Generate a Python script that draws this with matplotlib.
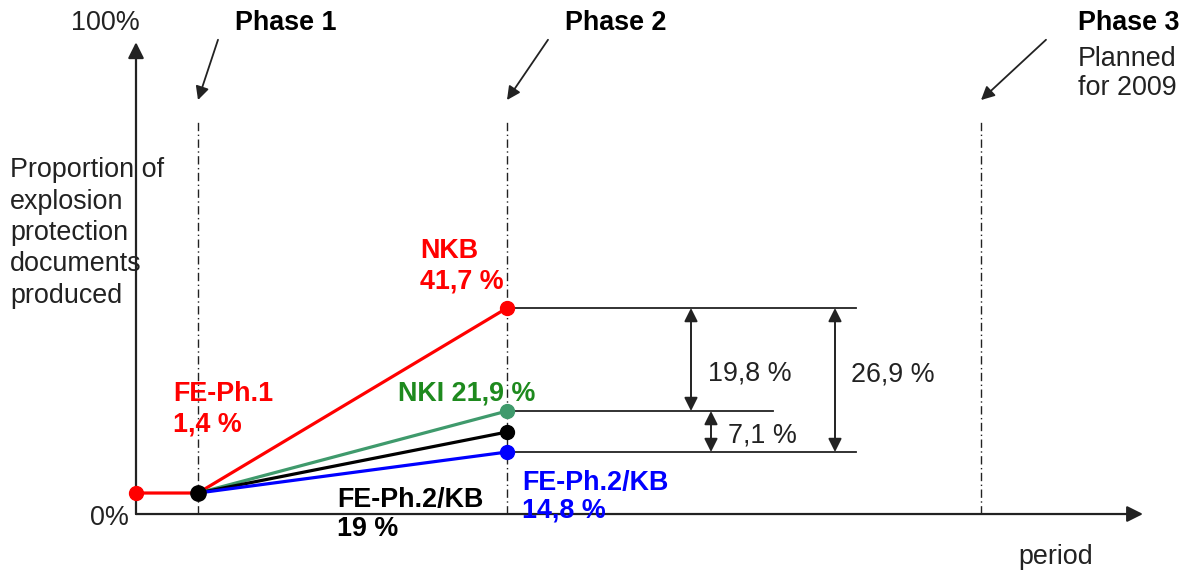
import matplotlib
matplotlib.use("Agg")
import matplotlib.pyplot as plt

plt.rcParams['font.family'] = ['Liberation Sans', 'DejaVu Sans']

# ---- data (positions, in period units / percent) ----
phase_names = ["Phase 1", "Phase 2", "Phase 3"]
phase_x = [0.62, 3.71, 8.45]
x_start = 0.0
start_value = 4.25          # FE-Ph.1 (drawn level)
nkb_value = 41.7            # NKB
nki_value = 20.85           # NKI
fekb_value = 16.6           # FE-Ph.2/KB (black)
feph2_value = 12.55         # FE-Ph.2/KB (blue)

label_fe1 = ["FE-Ph.1", "1,4 %"]
label_nkb = ["NKB", "41,7 %"]
label_nki = "NKI 21,9 %"
label_fekb = ["FE-Ph.2/KB", "19 %"]
label_feph2 = ["FE-Ph.2/KB", "14,8 %"]
diff_labels = ["19,8 %", "7,1 %", "26,9 %"]

RED = "#ff0000"
BLUE = "#0000ff"
GREEN_LINE = "#3f9a6c"
GREEN_TXT = "#1e8a1e"

fig = plt.figure(figsize=(11.94, 5.73), dpi=100)
ax = fig.add_axes([0, 0, 1, 1])
ax.set_xlim(-1.36, 10.58)
ax.set_ylim(-11.94, 104.05)
ax.axis('off')

FS = 19.4

# axes with arrows
ax.annotate("", xy=(0, 95.5), xytext=(0, 0),
            arrowprops=dict(arrowstyle='-|>', lw=1.6, color='#222222',
                            mutation_scale=24, shrinkA=0, shrinkB=0))
ax.annotate("", xy=(10.07, 0), xytext=(0, 0),
            arrowprops=dict(arrowstyle='-|>', lw=1.6, color='#222222',
                            mutation_scale=24, shrinkA=0, shrinkB=0))
ax.text(-0.31, 99.4, "100%", fontsize=FS, ha='center', va='center', color='#222222')
ax.text(-0.27, -0.8, "0%", fontsize=FS, ha='center', va='center', color='#222222')
ax.text(9.2, -8.8, "period", fontsize=FS, ha='center', va='center', color='#222222')
ax.text(-1.26, 56.9, "Proportion of\nexplosion\nprotection\ndocuments\nproduced",
        fontsize=FS, ha='left', va='center', color='#222222', linespacing=1.27)

# phase dashed lines & arrows
for name, px in zip(phase_names, phase_x):
    ax.plot([px, px], [0, 79.3], color='#222222', lw=1.0,
            linestyle=(0, (6, 2.5, 1, 2.5)))
    dx = {"Phase 1": 0.2, "Phase 2": 0.41, "Phase 3": 0.65}[name]
    ax.annotate("", xy=(px, 83.8), xytext=(px + dx, 96),
                arrowprops=dict(arrowstyle='-|>', lw=1.3, color='#222222',
                                mutation_scale=20, shrinkA=0, shrinkB=0))
ax.text(phase_x[0] + 0.37, 99.4, phase_names[0], fontsize=FS, fontweight='bold',
        ha='left', va='center')
ax.text(phase_x[1] + 0.58, 99.4, phase_names[1], fontsize=FS, fontweight='bold',
        ha='left', va='center')
ax.text(phase_x[2] + 0.97, 99.4, phase_names[2], fontsize=FS, fontweight='bold',
        ha='left', va='center')
ax.text(phase_x[2] + 0.97, 89.2, "Planned\nfor 2009", fontsize=FS, ha='left',
        va='center', linespacing=1.12, color='#222222')

# reference lines for dimensions
x_ref_long = 7.2
x_ref_short = 6.37
ax.plot([phase_x[1], x_ref_long], [nkb_value, nkb_value], color='#222222', lw=1.3)
ax.plot([phase_x[1], x_ref_short], [nki_value, nki_value], color='#222222', lw=1.3)
ax.plot([phase_x[1], x_ref_long], [feph2_value, feph2_value], color='#222222', lw=1.3)

dims = [(5.55, nkb_value, nki_value), (5.75, nki_value, feph2_value),
        (6.99, nkb_value, feph2_value)]
for (dxp, y1, y2) in dims:
    ax.annotate("", xy=(dxp, y1), xytext=(dxp, y2),
                arrowprops=dict(arrowstyle='<|-|>', lw=1.4, color='#222222',
                                mutation_scale=20, shrinkA=0, shrinkB=0))
ax.text(5.72, 28.5, diff_labels[0], fontsize=FS, ha='left', va='center', color='#222222')
ax.text(5.92, 15.8, diff_labels[1], fontsize=FS, ha='left', va='center', color='#222222')
ax.text(7.15, 28.3, diff_labels[2], fontsize=FS, ha='left', va='center', color='#222222')

# series lines
LW = 2.3
MS = 10
ax.plot([x_start, phase_x[0], phase_x[1]], [start_value, start_value, nkb_value],
        color=RED, lw=LW, solid_capstyle='round')
ax.plot([phase_x[0], phase_x[1]], [start_value, nki_value], color=GREEN_LINE, lw=LW)
ax.plot([phase_x[0], phase_x[1]], [start_value, fekb_value], color='black', lw=LW)
ax.plot([phase_x[0], phase_x[1]], [start_value, feph2_value], color=BLUE, lw=LW)

ax.plot([x_start], [start_value], 'o', color=RED, ms=MS, zorder=5)
ax.plot([phase_x[1]], [nkb_value], 'o', color=RED, ms=MS, zorder=5)
ax.plot([phase_x[1]], [nki_value], 'o', color=GREEN_LINE, ms=MS, zorder=5)
ax.plot([phase_x[1]], [fekb_value], 'o', color='black', ms=MS, zorder=5)
ax.plot([phase_x[1]], [feph2_value], 'o', color=BLUE, ms=MS, zorder=5)
ax.plot([phase_x[0]], [start_value], 'o', color='black', ms=MS + 1, zorder=6)

# labels
ax.text(0.37, 21.25, label_fe1[0] + "\n" + label_fe1[1], fontsize=FS, fontweight='bold',
        color=RED, ha='left', va='center', linespacing=1.25)
ax.text(2.84, 50.2, label_nkb[0] + "\n" + label_nkb[1], fontsize=FS, fontweight='bold',
        color=RED, ha='left', va='center', linespacing=1.25)
ax.text(2.62, 24.3, label_nki, fontsize=FS, fontweight='bold', color=GREEN_TXT,
        ha='left', va='center')
ax.text(2.01, -0.1, label_fekb[0] + "\n" + label_fekb[1], fontsize=FS, fontweight='bold',
        color='black', ha='left', va='center', linespacing=1.18)
ax.text(3.86, 3.5, label_feph2[0] + "\n" + label_feph2[1], fontsize=FS, fontweight='bold',
        color=BLUE, ha='left', va='center', linespacing=1.1)

fig.savefig("out.png", dpi=100)
